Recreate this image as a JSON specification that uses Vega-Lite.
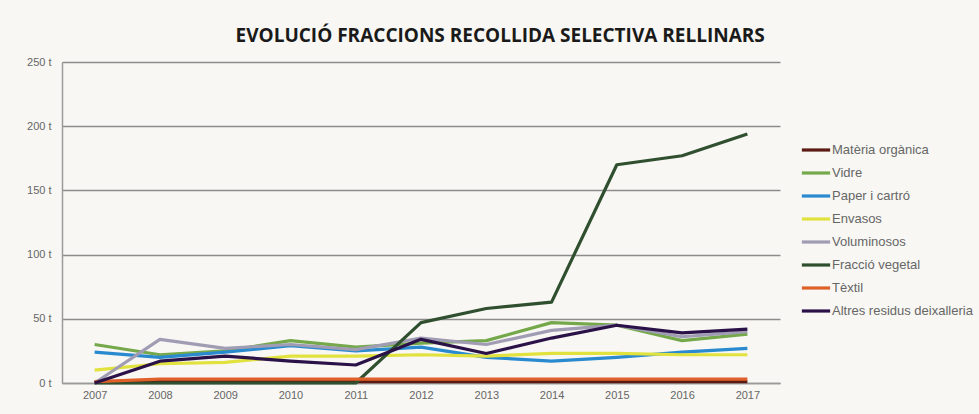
{
  "$schema": "https://vega.github.io/schema/vega-lite/v6.json",
  "width": 718,
  "height": 321,
  "autosize": "none",
  "padding": {"left": 62, "top": 62, "right": 199, "bottom": 31},
  "background": "#f8f7f3",
  "title": {
    "text": "EVOLUCIÓ FRACCIONS RECOLLIDA SELECTIVA RELLINARS",
    "anchor": "start",
    "dx": 209,
    "offset": 10,
    "font": "Open Sans",
    "fontSize": 19,
    "fontWeight": "bold",
    "color": "#1a1a1a"
  },
  "data": {
    "values": [
      {"serie": "Matèria orgànica", "any": "2007", "t": 1},
      {"serie": "Matèria orgànica", "any": "2008", "t": 1},
      {"serie": "Matèria orgànica", "any": "2009", "t": 1},
      {"serie": "Matèria orgànica", "any": "2010", "t": 1},
      {"serie": "Matèria orgànica", "any": "2011", "t": 1},
      {"serie": "Matèria orgànica", "any": "2012", "t": 1},
      {"serie": "Matèria orgànica", "any": "2013", "t": 1},
      {"serie": "Matèria orgànica", "any": "2014", "t": 1},
      {"serie": "Matèria orgànica", "any": "2015", "t": 1},
      {"serie": "Matèria orgànica", "any": "2016", "t": 1},
      {"serie": "Matèria orgànica", "any": "2017", "t": 1},
      {"serie": "Vidre", "any": "2007", "t": 30},
      {"serie": "Vidre", "any": "2008", "t": 22},
      {"serie": "Vidre", "any": "2009", "t": 25},
      {"serie": "Vidre", "any": "2010", "t": 33},
      {"serie": "Vidre", "any": "2011", "t": 28},
      {"serie": "Vidre", "any": "2012", "t": 31},
      {"serie": "Vidre", "any": "2013", "t": 33},
      {"serie": "Vidre", "any": "2014", "t": 47},
      {"serie": "Vidre", "any": "2015", "t": 45},
      {"serie": "Vidre", "any": "2016", "t": 33},
      {"serie": "Vidre", "any": "2017", "t": 38},
      {"serie": "Paper i cartró", "any": "2007", "t": 24},
      {"serie": "Paper i cartró", "any": "2008", "t": 20},
      {"serie": "Paper i cartró", "any": "2009", "t": 24},
      {"serie": "Paper i cartró", "any": "2010", "t": 29},
      {"serie": "Paper i cartró", "any": "2011", "t": 25},
      {"serie": "Paper i cartró", "any": "2012", "t": 28},
      {"serie": "Paper i cartró", "any": "2013", "t": 20},
      {"serie": "Paper i cartró", "any": "2014", "t": 17},
      {"serie": "Paper i cartró", "any": "2015", "t": 20},
      {"serie": "Paper i cartró", "any": "2016", "t": 24},
      {"serie": "Paper i cartró", "any": "2017", "t": 27},
      {"serie": "Envasos", "any": "2007", "t": 10},
      {"serie": "Envasos", "any": "2008", "t": 15},
      {"serie": "Envasos", "any": "2009", "t": 16},
      {"serie": "Envasos", "any": "2010", "t": 21},
      {"serie": "Envasos", "any": "2011", "t": 21},
      {"serie": "Envasos", "any": "2012", "t": 22},
      {"serie": "Envasos", "any": "2013", "t": 21},
      {"serie": "Envasos", "any": "2014", "t": 23},
      {"serie": "Envasos", "any": "2015", "t": 23},
      {"serie": "Envasos", "any": "2016", "t": 22},
      {"serie": "Envasos", "any": "2017", "t": 22},
      {"serie": "Voluminosos", "any": "2007", "t": 0},
      {"serie": "Voluminosos", "any": "2008", "t": 34},
      {"serie": "Voluminosos", "any": "2009", "t": 27},
      {"serie": "Voluminosos", "any": "2010", "t": 30},
      {"serie": "Voluminosos", "any": "2011", "t": 26},
      {"serie": "Voluminosos", "any": "2012", "t": 35},
      {"serie": "Voluminosos", "any": "2013", "t": 30},
      {"serie": "Voluminosos", "any": "2014", "t": 41},
      {"serie": "Voluminosos", "any": "2015", "t": 45},
      {"serie": "Voluminosos", "any": "2016", "t": 36},
      {"serie": "Voluminosos", "any": "2017", "t": 40},
      {"serie": "Fracció vegetal", "any": "2007", "t": 0},
      {"serie": "Fracció vegetal", "any": "2008", "t": 0},
      {"serie": "Fracció vegetal", "any": "2009", "t": 0},
      {"serie": "Fracció vegetal", "any": "2010", "t": 0},
      {"serie": "Fracció vegetal", "any": "2011", "t": 0},
      {"serie": "Fracció vegetal", "any": "2012", "t": 47},
      {"serie": "Fracció vegetal", "any": "2013", "t": 58},
      {"serie": "Fracció vegetal", "any": "2014", "t": 63},
      {"serie": "Fracció vegetal", "any": "2015", "t": 170},
      {"serie": "Fracció vegetal", "any": "2016", "t": 177},
      {"serie": "Fracció vegetal", "any": "2017", "t": 194},
      {"serie": "Tèxtil", "any": "2007", "t": 1},
      {"serie": "Tèxtil", "any": "2008", "t": 3},
      {"serie": "Tèxtil", "any": "2009", "t": 3},
      {"serie": "Tèxtil", "any": "2010", "t": 3},
      {"serie": "Tèxtil", "any": "2011", "t": 3},
      {"serie": "Tèxtil", "any": "2012", "t": 3},
      {"serie": "Tèxtil", "any": "2013", "t": 3},
      {"serie": "Tèxtil", "any": "2014", "t": 3},
      {"serie": "Tèxtil", "any": "2015", "t": 3},
      {"serie": "Tèxtil", "any": "2016", "t": 3},
      {"serie": "Tèxtil", "any": "2017", "t": 3},
      {"serie": "Altres residus deixalleria", "any": "2007", "t": 0},
      {"serie": "Altres residus deixalleria", "any": "2008", "t": 17},
      {"serie": "Altres residus deixalleria", "any": "2009", "t": 21},
      {"serie": "Altres residus deixalleria", "any": "2010", "t": 17},
      {"serie": "Altres residus deixalleria", "any": "2011", "t": 14},
      {"serie": "Altres residus deixalleria", "any": "2012", "t": 34},
      {"serie": "Altres residus deixalleria", "any": "2013", "t": 23},
      {"serie": "Altres residus deixalleria", "any": "2014", "t": 35},
      {"serie": "Altres residus deixalleria", "any": "2015", "t": 45},
      {"serie": "Altres residus deixalleria", "any": "2016", "t": 39},
      {"serie": "Altres residus deixalleria", "any": "2017", "t": 42}
    ]
  },
  "mark": {"type": "line", "strokeWidth": 3.2, "strokeJoin": "round"},
  "encoding": {
    "x": {
      "field": "any",
      "type": "ordinal",
      "title": null,
      "axis": {
        "labelAngle": 0,
        "labelFont": "Liberation Sans",
        "labelFontSize": 11,
        "labelColor": "#666666",
        "labelPadding": 6,
        "ticks": false,
        "domainColor": "#9a9a9a",
        "domainWidth": 1.5
      }
    },
    "y": {
      "field": "t",
      "type": "quantitative",
      "title": null,
      "scale": {"domain": [0, 250]},
      "axis": {
        "values": [0, 50, 100, 150, 200, 250],
        "labelExpr": "datum.value + ' t'",
        "labelFont": "Liberation Sans",
        "labelFontSize": 11,
        "labelColor": "#666666",
        "labelPadding": 11,
        "ticks": false,
        "domainColor": "#9a9a9a",
        "domainWidth": 1.5,
        "gridColor": "#8c8c8c",
        "gridWidth": 1.5
      }
    },
    "color": {
      "field": "serie",
      "type": "nominal",
      "title": null,
      "sort": ["Matèria orgànica", "Vidre", "Paper i cartró", "Envasos", "Voluminosos", "Fracció vegetal", "Tèxtil", "Altres residus deixalleria"],
      "scale": {
        "domain": ["Matèria orgànica", "Vidre", "Paper i cartró", "Envasos", "Voluminosos", "Fracció vegetal", "Tèxtil", "Altres residus deixalleria"],
        "range": ["#5b1a12", "#74a84a", "#2a8ad0", "#e2e23e", "#a09cb4", "#2f4f2f", "#e0602a", "#2a1248"]
      },
      "legend": {
        "orient": "none",
        "legendX": 738,
        "legendY": 72,
        "symbolType": "stroke",
        "symbolSize": 800,
        "symbolStrokeWidth": 3.2,
        "labelFont": "Liberation Sans",
        "labelFontSize": 13,
        "labelColor": "#666666",
        "labelOffset": 0,
        "rowPadding": -2.7
      }
    }
  },
  "config": {
    "view": {"stroke": null}
  }
}
